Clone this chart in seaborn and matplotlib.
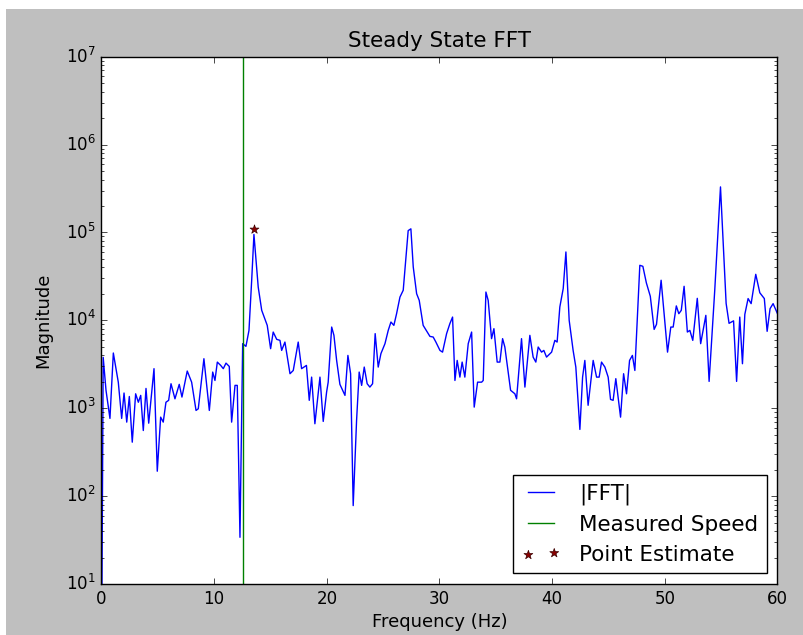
import numpy as np
import pandas as pd
import matplotlib
matplotlib.use("Agg")
import matplotlib.pyplot as plt
import seaborn as sns
from matplotlib.patches import Rectangle

freq_hz = [0.0, 0.15, 0.40, 0.75, 1.05, 1.49, 1.79, 2.0, 2.24, 2.47, 2.73, 3.03, 3.27, 3.48, 3.71, 3.95,
           4.19, 4.66, 4.95, 5.25, 5.48, 5.72, 5.96, 6.17, 6.52, 6.90, 7.14, 7.61, 8.00, 8.39, 8.59, 9.09,
           9.57, 9.87, 10.07, 10.28, 10.58, 10.81, 11.05, 11.34, 11.55, 11.85, 12.05, 12.29, 12.53, 12.82,
           13.09, 13.33, 13.53, 13.91, 14.22, 14.71, 15.01, 15.24, 15.55, 15.84, 15.99, 16.28, 16.73, 17.02,
           17.46, 17.76, 18.19, 18.44, 18.65, 18.94, 19.39, 19.68, 19.98, 20.12, 20.43, 20.63, 20.87, 21.16,
           21.61, 21.87, 22.11, 22.34, 22.64, 22.87, 23.09, 23.32, 23.58, 23.82, 24.06, 24.29, 24.56, 24.80,
           25.16, 25.45, 25.69, 25.95, 26.19, 26.49, 26.78, 27.22, 27.46, 27.67, 27.97, 28.20, 28.55, 28.91,
           29.15, 29.44, 29.68, 30.04, 30.27, 30.63, 30.92, 31.16, 31.37, 31.57, 31.81, 32.01, 32.25, 32.55,
           32.85, 33.08, 33.38, 33.74, 33.88, 34.12, 34.32, 34.62, 34.83, 35.12, 35.36, 35.60, 35.80, 36.31,
           36.69, 36.84, 37.28, 37.58, 38.02, 38.31, 38.55, 38.76, 39.06, 39.26, 39.50, 39.95, 40.24, 40.44,
           40.68, 40.98, 41.22, 41.51, 41.86, 42.10, 42.46, 42.70, 42.90, 43.19, 43.64, 43.94, 44.17, 44.38,
           44.68, 44.97, 45.18, 45.41, 45.65, 46.07, 46.34, 46.60, 46.87, 47.12, 47.34, 47.78, 48.05, 48.36,
           48.71, 49.05, 49.26, 49.67, 50.24, 50.53, 50.74, 51.02, 51.24, 51.46, 51.71, 52.00, 52.22, 52.48,
           52.88, 53.18, 53.64, 53.93, 54.43, 54.94, 55.44, 55.70, 56.10, 56.37, 56.65, 56.89, 57.10, 57.39,
           57.66, 58.07, 58.43, 58.83, 59.08, 59.34, 59.61, 60.00]

fft_mag = [1, 3790, 1600, 766, 4250, 1980, 766, 1490, 695, 1360, 411, 1460, 1170, 1400, 558, 1680,
           676, 2820, 192, 792, 695, 1170, 1230, 1900, 1280, 1870, 1340, 2650, 1980, 944, 986, 3660,
           944, 2580, 2070, 3350, 3070, 2820, 3260, 2990, 695, 1820, 1820, 34, 5430, 5060,
           7690, 28600, 95000, 23900, 13000, 8770, 4760, 7360, 6080, 5920, 4550, 5660, 2470, 2690,
           5660, 2820, 3070, 1230, 2260, 666, 2260, 708, 1530, 1980, 8390, 6750, 3500, 1870,
           1400, 3990, 2470, 78, 726, 2580, 1820, 2940, 1900, 1740, 1900, 7060, 2940, 4180,
           5430, 7690, 9570, 8770, 11900, 18400, 22000, 105000, 110000, 40500, 20100, 16900, 8770, 7360,
           6570, 6460, 5660, 4550, 4350, 7060, 9170, 10900, 2070, 3500, 2260, 3350, 2260, 5430,
           7360, 1030, 1980, 1980, 2070, 21000, 16900, 6190, 8040, 3350, 3350, 6190, 4970, 1600,
           1460, 1280, 6190, 1740, 6750, 3820, 3350, 4970, 4350, 4550, 3820, 4350, 5920, 5660,
           14200, 23000, 60000, 10000, 4550, 2940, 574, 2260, 3500, 1080, 3500, 2260, 2260, 3350,
           2940, 2260, 1260, 1230, 2170, 792, 2470, 1460, 3500, 3990, 2690, 42300, 41200, 26700,
           18800, 7890, 9000, 28600, 4350, 8390, 8390, 14600, 11900, 13000, 24400, 7360, 7690, 5920,
           17800, 5430, 11400, 2020, 22000, 330000, 15600, 9250, 9870, 2020, 10900, 3210, 11700, 17700,
           15500, 33400, 20600, 17700, 7500, 13600, 15500, 11900]

measured_speed_hz = [12.6]
estimate_freq_hz = [13.55]
estimate_mag = [1.1e5]

plt.style.use("classic")
plt.rcParams["font.family"] = ["DejaVu Sans"]

fig = plt.figure(figsize=(8.04, 6.35), dpi=100)
fig.patch.set_facecolor("white")
fig.patches.append(Rectangle((6 / 804, 0), 1, (635 - 9) / 635, transform=fig.transFigure,
                             facecolor="#bfbfbf", edgecolor="none", zorder=-10))
ax = fig.add_axes([101.5 / 804, 51 / 635, 676 / 804, 527.3 / 635])

df = pd.DataFrame({"freq": freq_hz, "mag": fft_mag})
sns.lineplot(data=df, x="freq", y="mag", ax=ax, color="#0000ff", lw=1.0, sort=False,
             estimator=None, label="|FFT|")
for s in measured_speed_hz:
    ax.axvline(s, color="#008000", lw=1.0, label="Measured Speed")
est = pd.DataFrame({"freq": estimate_freq_hz, "mag": estimate_mag})
sns.scatterplot(data=est, x="freq", y="mag", ax=ax, marker="*", s=45, color="#8b0000",
                edgecolor="#3a0000", linewidth=0.5, label="Point Estimate", zorder=5)

ax.set_yscale("log")
ax.set_xlim(0, 60)
ax.set_ylim(10, 1e7)
ax.set_xticks([0, 10, 20, 30, 40, 50, 60])
ax.set_title("Steady State FFT", fontsize=15.5, pad=7)
ax.set_xlabel("Frequency (Hz)", fontsize=13, labelpad=4)
ax.set_ylabel("Magnitude", fontsize=13, labelpad=10)
ax.tick_params(labelsize=12)

leg = ax.legend(loc="lower right", fontsize=15.5, scatterpoints=2, numpoints=2,
                fancybox=False, framealpha=1.0, borderaxespad=0.5,
                handlelength=1.8, handletextpad=0.85, labelspacing=0.45)
leg.get_frame().set_edgecolor("black")

fig.savefig("out.png", dpi=100, facecolor=fig.get_facecolor())
